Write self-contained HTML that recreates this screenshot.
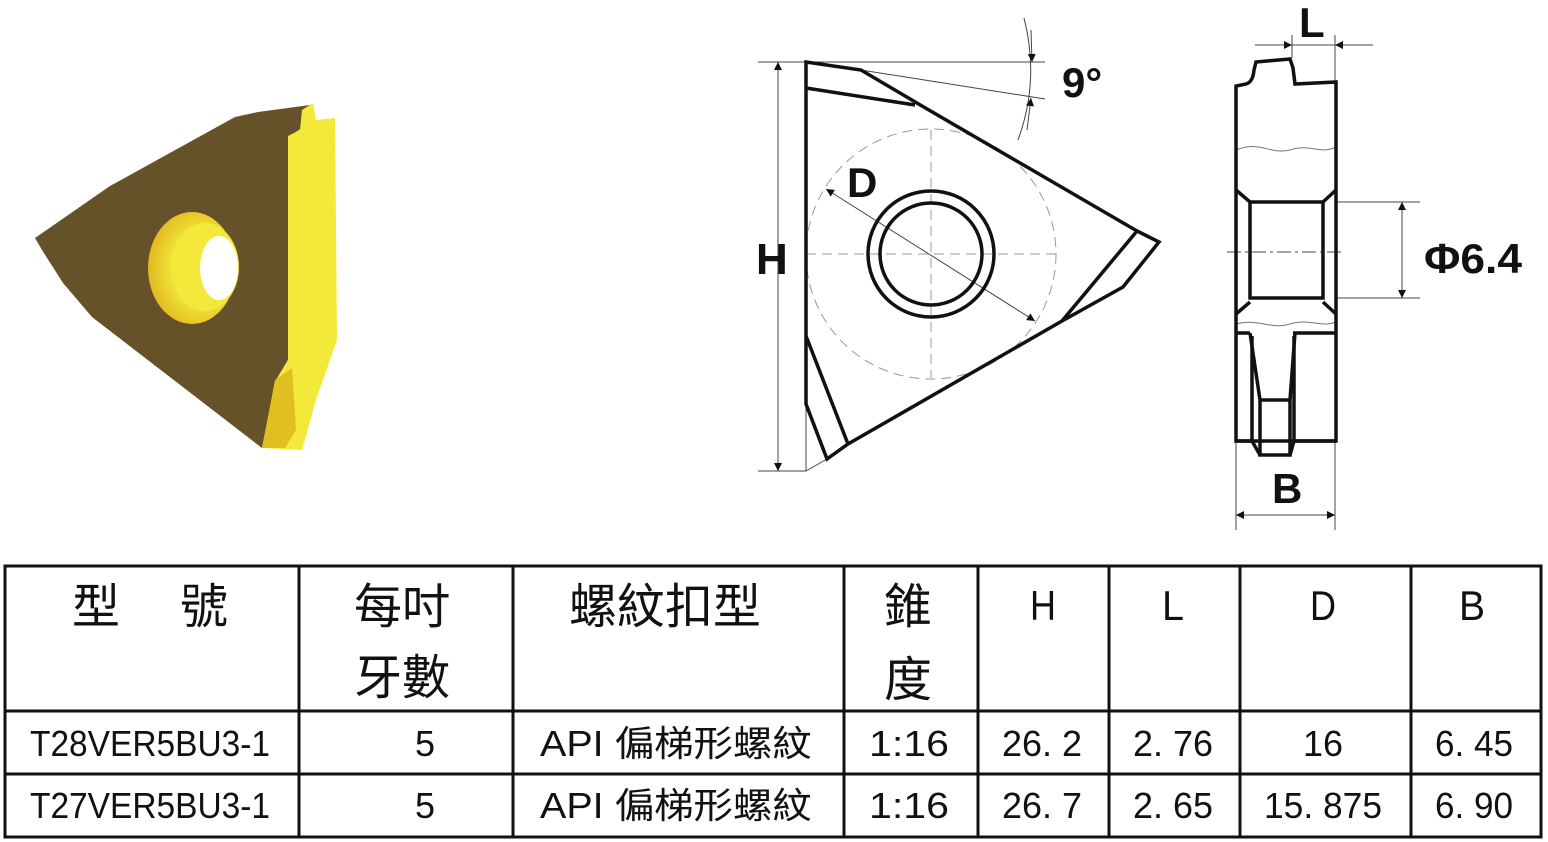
<!DOCTYPE html>
<html><head><meta charset="utf-8"><style>
html,body{margin:0;padding:0;background:#fff;}
svg{display:block}
text{font-family:"Liberation Sans","Noto Sans CJK TC",sans-serif;fill:#111}
.cj{font-family:"Noto Sans CJK TC","WenQuanYi Zen Hei",sans-serif}
</style></head><body>
<svg width="1548" height="842" viewBox="0 0 1548 842" xmlns="http://www.w3.org/2000/svg">
<defs>
<marker id="a" viewBox="0 0 10 10" refX="10" refY="5" markerWidth="14" markerHeight="8" orient="auto-start-reverse" markerUnits="userSpaceOnUse"><path d="M0,0 L10,5 L0,10 z" fill="#111"/></marker>
<radialGradient id="hg" cx="0.6" cy="0.5" r="0.6"><stop offset="0.5" stop-color="#f4e83a"/><stop offset="1" stop-color="#e0b820"/></radialGradient>
</defs>

<!-- 3D insert -->
<polygon points="35,238 110,186 235,117 258,112 310,105 302,128 290,136 288,360 276,380 262,448 92,317 63,283 42,250" fill="#665228"/>
<polygon points="288,136 300,130 302,110 313,103 316,120 335,118 337,340 316,400 302,450 262,448 276,380 288,360" fill="#f2e93a"/>
<polygon points="275,380 292,368 296,430 285,448 262,448" fill="#e0c020"/>
<ellipse cx="192" cy="268" rx="44" ry="56" fill="url(#hg)"/>
<ellipse cx="205" cy="267" rx="34" ry="44" fill="#f4e83a"/>
<ellipse cx="219" cy="268" rx="19" ry="32" fill="#fff"/>

<!-- main view -->
<g stroke="#111" fill="none">
<g stroke-width="1" stroke="#444">
<line x1="758" y1="62" x2="1045" y2="62"/>
<line x1="758" y1="471" x2="806" y2="471"/>
<line x1="806" y1="404" x2="806" y2="471"/>
<line x1="806" y1="471" x2="827" y2="459"/>
<line x1="861" y1="70" x2="1045" y2="99"/>
<line x1="778" y1="62" x2="778" y2="471" marker-start="url(#a)" marker-end="url(#a)"/>
<path d="M1024,18 Q1040,80 1018,140"/>
<line x1="1031" y1="30" x2="1032" y2="62" marker-end="url(#a)"/>
<line x1="1027" y1="130" x2="1031" y2="98" marker-end="url(#a)"/>
<line x1="826" y1="189" x2="1035" y2="321" marker-start="url(#a)" marker-end="url(#a)"/>
</g>
<g stroke="#999" stroke-width="1" stroke-dasharray="10,6">
<circle cx="931" cy="254" r="125"/>
<line x1="806" y1="254" x2="1056" y2="254"/>
<line x1="931" y1="130" x2="931" y2="378"/>
</g>
<g stroke-width="3.5" stroke-linejoin="miter">
<polygon points="806,62 861,70 922,106 1137,231 1159,242 1123,287 1062,321 848,444 827,459 806,404"/>
<polyline points="806,88 915,105"/>
<line x1="1137" y1="231" x2="1062" y2="321"/>
<line x1="806" y1="336" x2="848" y2="444"/>
<circle cx="931" cy="254" r="63"/>
<circle cx="931" cy="254" r="51"/>
</g>
</g>
<g font-weight="bold">
<text x="756" y="274" font-size="44">H</text>
<text x="847" y="197" font-size="42">D</text>
<text x="1062" y="97" font-size="42">9°</text>
</g>

<!-- side view -->
<g stroke="#111" fill="none">
<g stroke-width="1" stroke="#444">
<line x1="1255" y1="45" x2="1373" y2="45"/>
<line x1="1255" y1="45" x2="1292" y2="45" marker-end="url(#a)"/>
<line x1="1373" y1="45" x2="1335" y2="45" marker-end="url(#a)"/>
<line x1="1292" y1="35" x2="1292" y2="58"/>
<line x1="1335" y1="35" x2="1335" y2="83"/>
<line x1="1336" y1="202" x2="1420" y2="202"/>
<line x1="1336" y1="298" x2="1420" y2="298"/>
<line x1="1402" y1="202" x2="1402" y2="298" marker-start="url(#a)" marker-end="url(#a)"/>
<line x1="1236" y1="441" x2="1236" y2="530"/>
<line x1="1335" y1="441" x2="1335" y2="530"/>
<line x1="1236" y1="515" x2="1335" y2="515" marker-start="url(#a)" marker-end="url(#a)"/>
<line x1="1227" y1="252" x2="1342" y2="252" stroke-dasharray="14,4,3,4"/>
<path d="M1236,150 C1260,140 1270,155 1290,150 C1310,143 1320,155 1336,147" stroke="#777"/>
<path d="M1236,324 C1260,318 1270,330 1290,324 C1310,318 1320,328 1336,322" stroke="#777"/>
</g>
<g stroke-width="3.5">
<path d="M1236,441 L1236,86 L1246,84 Q1253,82 1254,70 L1256,62 L1290,59 L1293,68 L1295,84 L1336,82 L1336,441 Z"/>
<line x1="1236" y1="190" x2="1250" y2="202"/>
<line x1="1336" y1="190" x2="1323" y2="202"/>
<rect x="1250" y="202" width="73" height="96"/>
<line x1="1236" y1="314" x2="1250" y2="302"/>
<line x1="1336" y1="314" x2="1323" y2="302"/>
<line x1="1236" y1="333" x2="1250" y2="333"/>
<line x1="1293" y1="333" x2="1336" y2="333"/>
<path d="M1250,333 L1260,400 L1260,455 L1290,455 L1290,400 L1295,333"/>
<line x1="1260" y1="400" x2="1290" y2="400"/>
<line x1="1252" y1="336" x2="1252" y2="441"/>
<line x1="1294" y1="336" x2="1294" y2="441"/>
<line x1="1236" y1="441" x2="1252" y2="441"/>
<line x1="1294" y1="441" x2="1336" y2="441"/>
<path d="M1252,441 L1260,455 M1294,441 L1290,455"/>
</g>
</g>
<g font-weight="bold">
<text x="1299" y="37" font-size="42">L</text>
<text x="1424" y="273" font-size="42" textLength="98" lengthAdjust="spacingAndGlyphs">Φ6.4</text>
<text x="1272" y="503" font-size="42">B</text>
</g>

<!-- table -->
<g stroke="#111" stroke-width="3" fill="none">
<rect x="5" y="566" width="1536" height="271"/>
<line x1="5" y1="711" x2="1541" y2="711"/>
<line x1="5" y1="774" x2="1541" y2="774"/>
<line x1="299" y1="566" x2="299" y2="837"/>
<line x1="513" y1="566" x2="513" y2="837"/>
<line x1="844" y1="566" x2="844" y2="837"/>
<line x1="978" y1="566" x2="978" y2="837"/>
<line x1="1109" y1="566" x2="1109" y2="837"/>
<line x1="1240" y1="566" x2="1240" y2="837"/>
<line x1="1411" y1="566" x2="1411" y2="837"/>
</g>
<g font-size="48" class="cj">
<text class="cj" x="72" y="623">型</text>
<text class="cj" x="180" y="623">號</text>
<text class="cj" x="354" y="623">每吋</text>
<text class="cj" x="354" y="694">牙數</text>
<text class="cj" x="569" y="623">螺紋扣型</text>
<text class="cj" x="884" y="623">錐</text>
<text class="cj" x="884" y="696">度</text>
</g>
<g font-size="42" text-anchor="middle">
<text x="1043" y="620" textLength="26" lengthAdjust="spacingAndGlyphs">H</text>
<text x="1173" y="620" textLength="22" lengthAdjust="spacingAndGlyphs">L</text>
<text x="1323" y="620" textLength="26" lengthAdjust="spacingAndGlyphs">D</text>
<text x="1472" y="620" textLength="26" lengthAdjust="spacingAndGlyphs">B</text>
</g>
<g font-size="36">
<text x="30" y="756" textLength="240" lengthAdjust="spacingAndGlyphs">T28VER5BU3-1</text>
<text x="30" y="818" textLength="240" lengthAdjust="spacingAndGlyphs">T27VER5BU3-1</text>
<text x="415" y="756">5</text>
<text x="415" y="818">5</text>
<text x="540" y="756" textLength="272" lengthAdjust="spacingAndGlyphs">API 偏梯形螺紋</text>
<text x="540" y="818" textLength="272" lengthAdjust="spacingAndGlyphs">API 偏梯形螺紋</text>
<text x="869" y="756" textLength="80" lengthAdjust="spacingAndGlyphs">1:16</text>
<text x="869" y="818" textLength="80" lengthAdjust="spacingAndGlyphs">1:16</text>
<text x="1002" y="756" textLength="80" lengthAdjust="spacingAndGlyphs">26. 2</text>
<text x="1002" y="818" textLength="80" lengthAdjust="spacingAndGlyphs">26. 7</text>
<text x="1133" y="756" textLength="80" lengthAdjust="spacingAndGlyphs">2. 76</text>
<text x="1133" y="818" textLength="80" lengthAdjust="spacingAndGlyphs">2. 65</text>
<text x="1303" y="756" textLength="40" lengthAdjust="spacingAndGlyphs">16</text>
<text x="1264" y="818" textLength="118" lengthAdjust="spacingAndGlyphs">15. 875</text>
<text x="1435" y="756" textLength="78" lengthAdjust="spacingAndGlyphs">6. 45</text>
<text x="1435" y="818" textLength="78" lengthAdjust="spacingAndGlyphs">6. 90</text>
</g>
</svg>
</body></html>
